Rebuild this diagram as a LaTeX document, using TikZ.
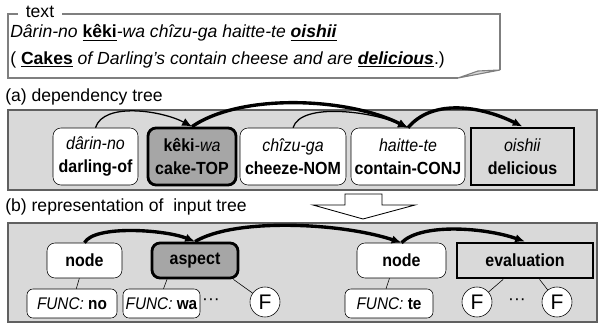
\documentclass[tikz,border=0pt]{standalone}
\usepackage{fontspec}
\setmainfont{Liberation Sans}
\newfontfamily\nodefont{Liberation Sans}[FakeStretch=0.91]
\usepackage{tikz}
\usetikzlibrary{arrows.meta}
\usepackage{xcolor}
\definecolor{panelgray}{HTML}{D9D9D9}
\definecolor{headgray}{HTML}{A6A6A6}
\definecolor{boxgray}{HTML}{7F7F7F}
\definecolor{edgegray}{HTML}{606060}
\newlength{\px}
\setlength{\px}{0.025cm}
\tikzstyle{txt}=[inner sep=0pt, font=\fontsize{12.5}{15}\selectfont]
\tikzstyle{word}=[draw, rounded corners=8\px, fill=white, align=center, inner sep=0pt, minimum height=57\px, font=\nodefont\fontsize{12.5}{16}\selectfont]
\tikzstyle{head}=[word, fill=headgray, line width=2pt]
\tikzstyle{root}=[word, sharp corners, fill=panelgray, line width=2pt]
\tikzstyle{tnode}=[word, minimum height=35\px]
\tikzstyle{func}=[word, minimum height=29\px, rounded corners=6\px, font=\nodefont\fontsize{12}{14}\selectfont]
\tikzstyle{feat}=[circle, draw, fill=white, inner sep=0pt, minimum size=30\px, font=\fontsize{15}{16}\selectfont]
\tikzstyle{dep}=[-{Latex[length=7pt,width=6pt]}, line width=0.9pt]
\tikzstyle{maindep}=[dep, line width=2.4pt]
\newcommand{\word}{\node[word]}

\begin{document}
\begin{tikzpicture}[x=0.025cm, y=-0.025cm]
\useasboundingbox (0,0) rectangle (600,327);

% text box
\draw[boxgray, line width=1.4pt] (18,14) -- (8,14) -- (8,78) -- (458,78);
\draw[boxgray, line width=1.4pt] (62,14) -- (500,14) -- (500,70);
\draw[boxgray, fill=panelgray, line width=0.8pt] (458,78) -- (478,71) -- (500,70) -- cycle;
\node[txt] (title) at (40,12) {text};
\node[txt, anchor=west] (jp) at (10,33) {\textit{Dârin-no} \underline{\textbf{kêki}}\textit{-wa chîzu-ga haitte-te} \underline{\textbf{\textit{oishii}}}};
\node[txt, anchor=west] (en) at (10,60) {( \underline{\textbf{Cakes}} \textit{of Darling's contain cheese and are} \underline{\textbf{\textit{delicious}}}.)};

% (a) dependency tree
\node[txt, anchor=west] (ta) at (5,97) {(a) dependency tree};
\draw[edgegray, fill=panelgray, line width=0.8pt] (8,110) rectangle (597,190);
\word (darin) at (95.5,156.5) [minimum width=85\px] {\textit{dârin-no}\\\textbf{darling-of}};
\node[head, minimum width=88\px] (keki) at (192,156.5) {\textbf{kêki}\textit{-wa}\\\textbf{cake-TOP}};
\word (chizu) at (293,156.5) [minimum width=106\px] {\textit{chîzu-ga}\\\textbf{cheeze-NOM}};
\word (haitte) at (408,156.5) [minimum width=114\px] {\textit{haitte-te}\\\textbf{contain-CONJ}};
\node[root, minimum width=103\px] (oishii) at (522.5,156.5) {\textit{oishii}\\\textbf{delicious}};

\draw[dep] (darin.north) .. controls +(8,-26) and +(-30,-16) .. (keki.north);
\draw[maindep] (keki.north) .. controls +(50,-34) and +(-60,-30) .. (haitte.north);
\draw[dep] (chizu.north) .. controls +(8,-26) and +(-35,-16) .. (haitte.north);
\draw[maindep] (haitte.north) .. controls +(25,-30) and +(-40,-20) .. (oishii.north);

% arrow between (a) and (b)
\draw[fill=white, line width=0.6pt] (345,194) -- (382,194) -- (382,205) -- (415,205) -- (363,219) -- (313,205) -- (345,205) -- cycle;

% (b) representation of input tree
\node[txt, anchor=west] (tb) at (5,207) {(b) representation of\ \ input tree};
\draw[edgegray, fill=panelgray, line width=0.8pt] (8,223) rectangle (597,322);
\node[tnode, minimum width=75\px] (n1) at (84.5,260.5) {\textbf{node}};
\node[tnode, head, minimum height=35\px, minimum width=86\px] (aspect) at (195,260.5) {\textbf{aspect}};
\node[tnode, minimum width=89\px] (n2) at (401.5,260.5) {\textbf{node}};
\node[tnode, root, minimum height=35\px, minimum width=136\px] (eval) at (525,260.5) {\textbf{evaluation}};

\node[func, minimum width=90\px] (fno) at (72,303.5) {\textit{FUNC:} \textbf{no}};
\node[func, minimum width=77\px] (fwa) at (161.5,303.5) {\textit{FUNC:} \textbf{wa}};
\node[func, minimum width=88\px] (fte) at (389,303.5) {\textit{FUNC:} \textbf{te}};
\node[feat] (f1) at (265,302) {F};
\node[feat] (f2) at (477,302) {F};
\node[feat] (f3) at (557,302) {F};
\node[txt] (d1) at (211,302) {···};
\node[txt] (d2) at (517,302) {···};

\draw (n1) -- (fno);
\draw ([xshift=-28\px]aspect.south) -- ([xshift=2\px]fwa.north);
\draw ([xshift=-6\px]aspect.south east) -- (f1);
\draw ([xshift=-12\px]n2.south) -- ([xshift=-3\px]fte.north);
\draw (eval) -- (f2);
\draw (eval) -- (f3);

\draw[maindep] (n1.north) .. controls +(10,-18) and +(-30,-12) .. (aspect.north);
\draw[maindep] (aspect.north) .. controls +(40,-24) and +(-60,-20) .. (n2.north);
\draw[maindep] (n2.north) .. controls +(20,-20) and +(-40,-14) .. (eval.north);
\end{tikzpicture}
\end{document}
